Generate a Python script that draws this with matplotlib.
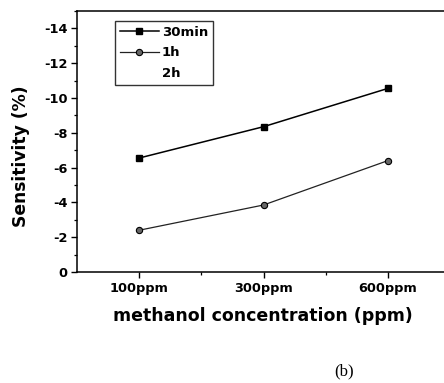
import matplotlib
matplotlib.use("Agg")
import matplotlib.pyplot as plt
from matplotlib.ticker import MultipleLocator, FixedLocator

categories = ["100ppm", "300ppm", "600ppm"]
s_30min = [-6.55, -8.35, -10.55]
s_1h = [-2.4, -3.85, -6.4]
series_labels = ["30min", "1h", "2h"]
yticks = [0, -2, -4, -6, -8, -10, -12, -14]

fig = plt.figure(figsize=(4.44, 3.83), dpi=100)
ax = fig.add_axes([77/444, 111/383, 373/444, 261/383])

x = list(range(len(categories)))
ax.plot(x, s_30min, color="black", lw=1.1, marker="s", ms=4.5,
        mfc="black", mec="black", label=series_labels[0])
ax.plot(x, s_1h, color="#222222", lw=0.9, marker="o", ms=4.5,
        mfc="#666666", mec="black", mew=0.8, label=series_labels[1])
ax.plot([], [], linestyle="none", label=series_labels[2])

ax.set_xlim(-0.5, 2.5)
ax.set_ylim(0, -15)
ax.set_xticks(x)
ax.set_xticklabels(categories)
ax.xaxis.set_minor_locator(FixedLocator([0.5, 1.5]))
ax.set_yticks(yticks)
ax.set_yticklabels([str(v) for v in yticks])
ax.yaxis.set_minor_locator(MultipleLocator(1))

for s in ax.spines.values():
    s.set_linewidth(1.1)
ax.spines["right"].set_visible(False)
ax.tick_params(which="major", direction="out", length=4, width=1, pad=3)
ax.tick_params(which="minor", direction="out", length=2.5, width=0.9)
ax.tick_params(axis="both", labelsize=9.3)
for lab in ax.get_xticklabels() + ax.get_yticklabels():
    lab.set_fontweight("bold")
    lab.set_family("DejaVu Sans")

ax.set_xlabel("methanol concentration (ppm)", fontsize=12.5,
              fontweight="bold", family="DejaVu Sans")
ax.set_ylabel("Sensitivity (%)", fontsize=12.3, fontweight="bold",
              family="DejaVu Sans")
ax.xaxis.label.set_va("center")
ax.yaxis.label.set_va("center")
ax.xaxis.set_label_coords(0.499, -0.169)
ax.yaxis.set_label_coords(-0.150, 0.444)

leg = ax.legend(loc="upper left", bbox_to_anchor=(0.102, 0.962),
                borderaxespad=0, fancybox=False, frameon=True,
                handlelength=3.0, handletextpad=0.2, labelspacing=0.6,
                borderpad=0.35, prop={"family": "DejaVu Sans",
                                      "weight": "bold", "size": 9.5})
leg.get_frame().set_edgecolor("black")
leg.get_frame().set_linewidth(1.0)

fig.text(344/444, 1 - 371/383, "(b)", fontsize=12, family="Liberation Serif",
         ha="center", va="center")

fig.savefig("out.png", dpi=100)
